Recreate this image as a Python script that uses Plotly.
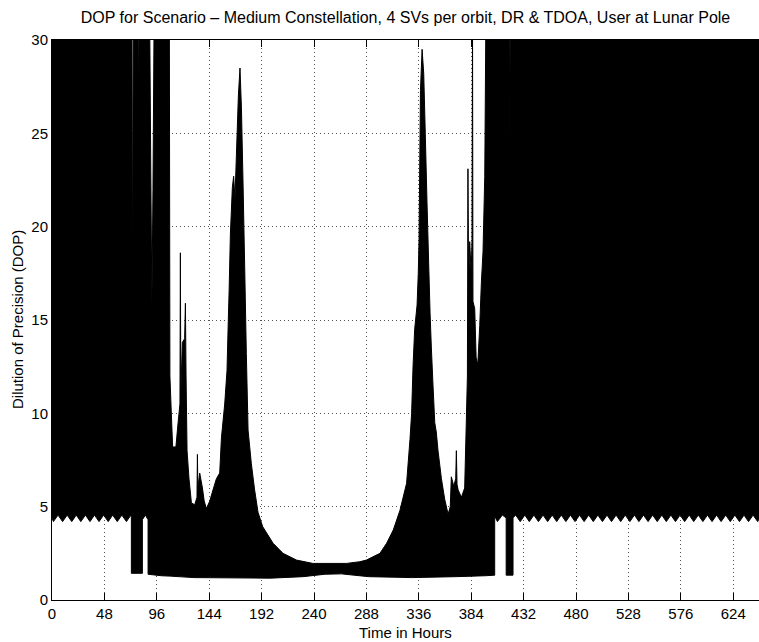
import plotly.graph_objects as go

# ---- data (hours, DOP) ----
# lower envelope of the dense DOP oscillation, left to right
lower_hours = [0, 1.3, 5.5, 9.7, 13.9, 18.1, 22.2, 26.4, 30.6, 34.8, 38.9, 43.1, 47.3, 51.5,
               55.6, 59.8, 64.0, 68.2, 72.3, 72.7, 72.7, 82.8, 82.8, 85.5, 88.0, 88.0,
               100, 108.0, 130, 200, 230, 250, 265, 290, 330, 370, 397.4, 405.5, 405.5, 408.0,
               412.5, 416.0,
               416.0, 422.3, 422.3, 424.7, 428.9, 433.1, 437.2, 441.4, 445.6, 449.8, 454.0,
               458.2, 462.3, 466.5, 470.7, 474.9, 479.1, 483.3, 487.4, 491.6, 495.8, 500.0,
               504.2, 508.4, 512.5, 516.7, 520.9, 525.1, 529.3, 533.5, 537.6, 541.8, 546.0,
               550.2, 554.4, 558.6, 562.7, 566.9, 571.1, 575.3, 579.5, 583.7, 587.8, 592.0,
               596.2, 600.4, 604.6, 608.8, 612.9, 617.1, 621.3, 625.5, 629.7, 633.9, 638.0,
               642.2, 646.4, 648.0]
lower_dop = [4.4, 4.2, 4.55, 4.2, 4.55, 4.2, 4.55, 4.2, 4.55, 4.2, 4.55, 4.2, 4.55, 4.2,
             4.55, 4.2, 4.55, 4.2, 4.55, 4.4, 1.43, 1.43, 4.3, 4.55, 4.3, 1.38,
             1.3, 1.28, 1.2, 1.17, 1.25, 1.38, 1.4, 1.25, 1.2, 1.25, 1.3, 1.33, 4.5, 4.2,
             4.55, 4.4,
             1.33, 1.33, 4.4, 4.55, 4.2, 4.55, 4.2, 4.55, 4.2, 4.55, 4.2,
             4.55, 4.2, 4.55, 4.2, 4.55, 4.2, 4.55, 4.2, 4.55, 4.2, 4.55,
             4.2, 4.55, 4.2, 4.55, 4.2, 4.55, 4.2, 4.55, 4.2, 4.55, 4.2,
             4.55, 4.2, 4.55, 4.2, 4.55, 4.2, 4.55, 4.2, 4.55, 4.2, 4.55,
             4.2, 4.55, 4.2, 4.55, 4.2, 4.55, 4.2, 4.55, 4.2, 4.55, 4.2,
             4.55, 4.2, 4.4]

# upper envelope of the oscillation, left to right (values above 30 are off the axis)
upper_hours = [0, 73.2, 73.8, 74.4, 79.0, 79.4, 79.8, 89.5, 90.5, 91.5, 92.5, 93.5, 107.5,
               108.0, 109.5, 110.5, 113.5, 115.5, 117.2, 117.6, 118.0, 119.4, 121.5, 122.2,
               122.8, 123.7, 125.5, 127.7, 130.7, 132.8, 133.2, 133.6, 135.3, 137.8, 139.4,
               141.4, 144.5, 147.5, 150.6, 153.6, 155.2, 158.2, 160.3, 161.5, 162.2, 163.4,
               165.2, 166.4, 167.6, 168.9, 170.7, 172.2, 173.5, 175.0, 176.5, 178.0, 179.6,
               182.6, 185.6, 188.7, 193.0, 202.5, 211.6, 223.9, 239.0, 269.7, 282.0, 288.0,
               300.4, 306.5, 312.6, 318.7, 324.8, 327.9, 329.4, 330.7, 332.2, 334.4, 335.5,
               336.2, 337.5, 339.0, 340.5, 342.0, 343.5, 345.0, 346.3, 347.5, 349.0, 350.6,
               352.0, 353.6, 356.7, 359.7, 362.8, 364.8, 365.8, 368.0, 369.8, 370.4, 371.0,
               372.0, 375.0, 378.0, 379.6, 380.5, 381.0, 381.6, 382.6, 384.0, 384.7, 385.2,
               385.6, 387.2, 388.5, 390.0, 391.8, 393.3, 394.8, 396.4, 397.4, 418.9, 419.3,
               419.7, 648.0]
upper_dop = [31, 31, 16, 31, 31, 25, 31, 31, 22.9, 15.7, 22, 31, 31,
             12.0, 9.7, 8.2, 8.2, 9.5, 10.5, 18.6, 11.0, 13.8, 14.0, 15.9,
             12.0, 8.0, 6.5, 5.2, 5.1, 5.5, 7.8, 6.0, 6.8, 6.0, 5.3,
             4.9, 5.3, 5.9, 6.5, 6.8, 8.7, 10.5, 12.3, 15.0, 16.5, 19.6,
             22.1, 22.7, 21.5, 23.8, 27.0, 28.5, 26.4, 22.3, 17.85, 13.2, 9.1,
             7.3, 5.9, 4.7, 3.93, 3.04, 2.5, 2.14, 1.96, 1.96, 2.05, 2.14,
             2.5, 3.04, 3.75, 4.8, 6.25, 8.6, 10.0, 12.5, 14.5, 15.8, 17.5,
             19.3, 27.3, 29.5, 28.2, 24.8, 21.3, 18.1, 15.4, 13.5, 11.5, 9.5,
             9.0, 8.0, 6.5, 5.4, 4.6, 5.0, 6.6, 6.1, 6.5, 8.0, 6.2,
             5.9, 5.5, 6.0, 9.8, 12.0, 23.1, 17.0, 19.2, 17.5, 19.3, 31,
             16.0, 15.6, 13.0, 12.6, 14.7, 17.0, 18.65, 22.7, 31, 31, 23.6,
             31, 31]

x_ticks = [0, 48, 96, 144, 192, 240, 288, 336, 384, 432, 480, 528, 576, 624]
y_ticks = [0, 5, 10, 15, 20, 25, 30]

title_text = "DOP for Scenario \u2013 Medium Constellation, 4 SVs per orbit, DR & TDOA, User at Lunar Pole"
x_title = "Time in Hours"
y_title = "Dilution of Precision (DOP)"

# ---- figure ----
fig = go.Figure()

# the band between the two envelopes, as one closed path in data coordinates
band_pts = list(zip(upper_hours, upper_dop)) + list(zip(lower_hours, lower_dop))[::-1]
band_path = "M " + " L ".join(f"{h},{v}" for h, v in band_pts) + " Z"

# outline of the band through the scatter machinery (crisp edges, thin spikes)
fig.add_trace(go.Scatter(
    x=[p[0] for p in band_pts] + [band_pts[0][0]],
    y=[p[1] for p in band_pts] + [band_pts[0][1]],
    mode="lines", line=dict(color="black", width=1, simplify=False),
    hoverinfo="skip", showlegend=False,
))

FONT = "Liberation Sans, Arial, Helvetica, sans-serif"
W, H = 759, 642
L, R, T, B = 52, 0, 40, 42
plot_w = W - L - R
plot_h = H - T - B

axis_common = dict(
    showline=True, linecolor="black", linewidth=1,
    ticks="inside", ticklen=7, tickcolor="black", tickwidth=1,
    showgrid=True, gridcolor="#555555", gridwidth=1, griddash="1px,3px",
    zeroline=False, tickfont=dict(family=FONT, size=15, color="black"),
)

fig.update_layout(
    width=W, height=H,
    margin=dict(l=L, r=R, t=T, b=B, pad=0),
    paper_bgcolor="white", plot_bgcolor="white",
    font=dict(family=FONT, size=15, color="black"),
    title=dict(text=title_text, x=0.5, xref="paper", xanchor="center",
               y=1 - 17 / H, yref="container", yanchor="middle",
               font=dict(family=FONT, size=16, color="black")),
    xaxis=dict(range=[0, 647.6], tickvals=x_ticks, ticktext=[str(v) for v in x_ticks],
               mirror="ticks", **axis_common),
    yaxis=dict(range=[0, 30], tickvals=y_ticks, ticktext=[str(v) for v in y_ticks],
               mirror=False, **axis_common),
    shapes=[dict(type="path", path=band_path, xref="x", yref="y",
                 fillcolor="black", line=dict(color="black", width=0),
                 layer="between")],
    annotations=[
        dict(text=x_title, xref="paper", yref="paper", x=0.5, y=-(632 - 600) / plot_h,
             xanchor="center", yanchor="middle", showarrow=False,
             font=dict(family=FONT, size=15, color="black")),
        dict(text=y_title, xref="paper", yref="paper", x=(17 - L) / plot_w, y=0.5,
             xanchor="center", yanchor="middle", textangle=-90, showarrow=False,
             font=dict(family=FONT, size=15, color="black")),
    ],
)

fig.write_html("out.html")
